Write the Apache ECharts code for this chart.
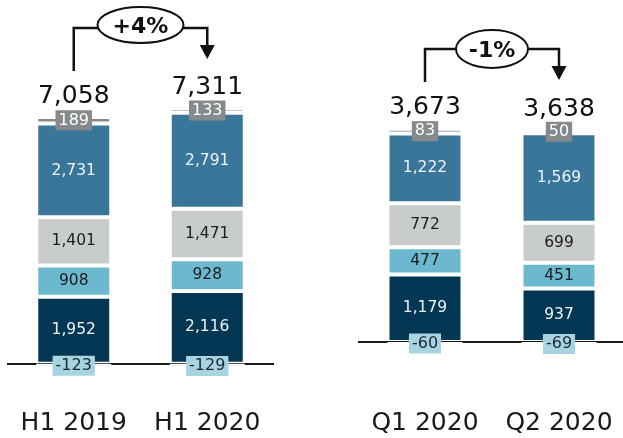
<!DOCTYPE html>
<html>
<head>
<meta charset="utf-8">
<script src="https://cdn.jsdelivr.net/npm/echarts@6/dist/echarts.min.js"></script>
<style>
html,body{margin:0;padding:0;background:#fff;}
#c{width:623px;height:438px;}
</style>
</head>
<body>
<div id="c"></div>
<script>
// ---- data ----
const catsH = ['H1 2019', 'H1 2020'];
const negH   = [-123, -129];
const navyH  = [1952, 2116];
const tealH  = [908, 928];
const greyH  = [1401, 1471];
const steelH = [2731, 2791];
const topH   = [189, 133];
const totalH = [7058, 7311];

const catsQ = ['Q1 2020', 'Q2 2020'];
const negQ   = [-60, -69];
const navyQ  = [1179, 937];
const tealQ  = [477, 451];
const greyQ  = [772, 699];
const steelQ = [1222, 1569];
const topQ   = [83, 50];
const totalQ = [3673, 3638];

const changes = ['+4%', '-1%'];

// ---- styling ----
const FONT = 'DejaVu Sans';
const C = {
  neg: '#a8d3e0', navy: '#033754', teal: '#6cb9cf',
  grey: '#c8cdcb', steel: '#39769a', top: '#868a8c'
};
const fmt = v => Number(v).toLocaleString('en-US');

function seg(name, data, color, txtColor, gi, opts) {
  opts = opts || {};
  const label = Object.assign({
    show: true, position: 'inside', color: txtColor,
    fontFamily: FONT, fontSize: 15.5,
    formatter: p => fmt(p.value)
  }, opts.label || {});
  const s = {
    type: 'bar', name: name, stack: 'g' + gi,
    xAxisIndex: gi, yAxisIndex: gi,
    barWidth: 75, data: data, z: opts.z || 2,
    itemStyle: { color: color, borderColor: '#fff', borderWidth: 2 },
    label: label, emphasis: { disabled: true }, silent: true
  };
  if (opts.zeroLine) {
    s.markLine = {
      silent: true, symbol: 'none', label: { show: false },
      lineStyle: { color: '#1a1a1a', width: 2, type: 'solid' },
      data: [{ yAxis: 0 }]
    };
  }
  return s;
}
function panel(gi, neg, navy, teal, grey, steel, top, total) {
  const posSum = navy.map((v, i) => v + teal[i] + grey[i] + steel[i] + top[i]);
  return [
    seg('navy', navy, C.navy, '#eef3f6', gi, { zeroLine: true }),
    seg('teal', teal, C.teal, '#1c1c1c', gi),
    seg('grey', grey, C.grey, '#1c1c1c', gi),
    seg('steel', steel, C.steel, '#eef3f6', gi),
    seg('top', top, C.top, '#ffffff', gi, { label: { backgroundColor: C.top, fontSize: 16, padding: [2, 3], lineHeight: 16 } }),
    seg('neg', neg, C.neg, '#1c2a33', gi, { z: 5, label: { backgroundColor: C.neg, fontSize: 16, padding: [2, 3], lineHeight: 16 } }),
    {
      type: 'scatter', xAxisIndex: gi, yAxisIndex: gi, data: posSum,
      symbolSize: 1, itemStyle: { color: 'rgba(0,0,0,0)', opacity: 1 }, silent: true, z: 6,
      label: {
        show: true, position: 'top', distance: 8,
        fontFamily: FONT, fontSize: 25, color: '#111',
        formatter: p => fmt(total[p.dataIndex])
      }
    }
  ];
}

const xAx = (cats, gi, margin) => ({
  type: 'category', gridIndex: gi, data: cats,
  axisTick: { show: false },
  axisLine: { show: false, onZero: false },
  axisLabel: { interval: 0, margin: margin, fontFamily: FONT, fontSize: 25, color: '#1a1a1a' }
});

const chart = echarts.init(document.getElementById('c'), null, { renderer: 'canvas' });
chart.setOption({
  animation: false,
  grid: [
    { left: 7, width: 267, top: 89, bottom: 40, containLabel: false, outerBoundsMode: 'none' },
    { left: 358, width: 268, top: 85, bottom: 39, containLabel: false, outerBoundsMode: 'none' }
  ],
  xAxis: [xAx(catsH, 0, 13), xAx(catsQ, 1, 12)],
  yAxis: [
    { type: 'value', gridIndex: 0, min: -1000, max: 8000, show: false },
    { type: 'value', gridIndex: 1, min: -1000, max: 4500, show: false }
  ],
  series: panel(0, negH, navyH, tealH, greyH, steelH, topH, totalH)
    .concat(panel(1, negQ, navyQ, tealQ, greyQ, steelQ, topQ, totalQ))
});

// ---- change arrows (annotations) ----
function arrow(gi, cats, text, yStart, yH, yTip, cy, rx, ry) {
  const x1 = chart.convertToPixel({ xAxisIndex: gi }, cats[0]);
  const x2 = chart.convertToPixel({ xAxisIndex: gi }, cats[1]);
  const cx = (x1 + x2) / 2;
  return [
    { type: 'polyline', shape: { points: [[x1, yStart], [x1, yH], [x2, yH], [x2, yTip - 12]] },
      style: { stroke: '#111', lineWidth: 2.5, fill: null }, z: 10 },
    { type: 'polygon', shape: { points: [[x2 - 7.5, yTip - 14], [x2 + 7.5, yTip - 14], [x2, yTip]] },
      style: { fill: '#111' }, z: 10 },
    { type: 'ellipse', shape: { cx: cx, cy: cy, rx: rx, ry: ry },
      style: { fill: '#fff', stroke: '#111', lineWidth: 2 }, z: 11 },
    { type: 'text', x: cx, y: cy + 2, z: 12,
      style: { text: text, align: 'center', verticalAlign: 'middle',
               font: 'bold 22px "' + FONT + '"', fill: '#111' } }
  ];
}
chart.setOption({
  graphic: arrow(0, catsH, changes[0], 71, 28, 59, 25, 43, 18)
    .concat(arrow(1, catsQ, changes[1], 82, 49, 80, 49, 36, 19))
});
</script>
</body>
</html>
